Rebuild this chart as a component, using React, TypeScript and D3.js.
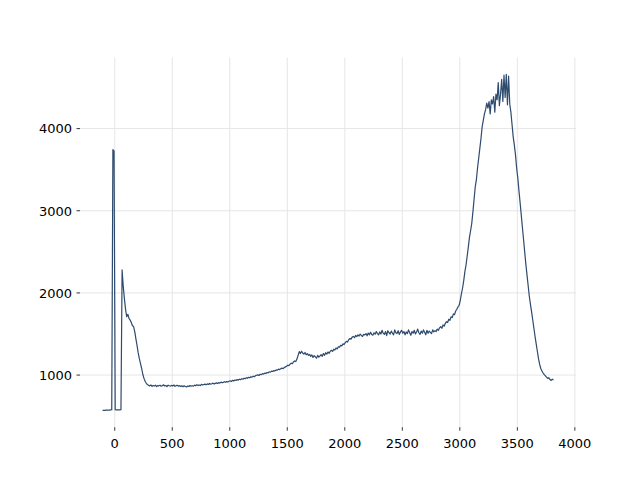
import React from "react";
import * as d3 from "d3";

// Spectrum sampled every X_STEP units starting at X_START
const X_START = -106;
const X_STEP = 10;

const VALUES: number[] = [
  // -106 .. -16
  570, 572, 571, 574, 573, 575, 574, 576, 578, 3745,
  // -6 .. 84
  3725, 578, 577, 577, 578, 577, 579, 2280, 2080, 1930,
  1800, 1710, 1740, 1690, 1670, 1640, 1600, 1590, 1530, 1440,
  1360, 1270, 1200, 1140, 1080, 1010, 960, 925, 900, 885,
  875, 868, 880, 862, 874, 866, 878, 860, 872, 869,
  876, 864, 871, 882, 867, 873, 861, 877, 870, 866,
  874, 868, 879, 863, 871, 876, 865, 872, 860, 869,
  858, 870, 862, 855, 867, 861, 873, 864, 870, 866,
  878, 869, 883, 874, 880, 872, 888, 879, 885, 890,
  882, 893, 886, 898, 889, 895, 902, 891, 899, 905,
  897, 908, 902, 914, 906, 911, 919, 912, 921, 916,
  925, 931, 922, 936, 929, 940, 934, 945, 939, 950,
  944, 955, 949, 962, 956, 968, 961, 973, 967, 979,
  975, 986, 980, 993, 998, 1003, 995, 1010, 1006, 1018,
  1012, 1024, 1019, 1031, 1027, 1040, 1036, 1048, 1044, 1055,
  1052, 1063, 1060, 1072, 1066, 1079, 1085, 1078, 1092, 1100,
  1108, 1120, 1115, 1132, 1145, 1138, 1160, 1172, 1165, 1195,
  1240, 1285, 1262, 1290, 1268, 1255, 1275, 1248, 1262, 1240,
  1252, 1228, 1245, 1215, 1238, 1222, 1205, 1240, 1218, 1232,
  1248, 1228, 1262, 1240, 1272, 1255, 1281, 1265, 1290, 1302,
  1288, 1315, 1305, 1330, 1318, 1345, 1338, 1362, 1355, 1380,
  1372, 1395, 1410, 1402, 1430, 1445, 1438, 1462, 1470, 1455,
  1482, 1468, 1490, 1475, 1498, 1482, 1470, 1495, 1488, 1505,
  1478, 1512, 1490, 1520, 1495, 1485, 1515, 1498, 1530, 1505,
  1490, 1525, 1500, 1545, 1510, 1495, 1530, 1480, 1540, 1515,
  1500, 1535, 1510, 1490, 1550, 1515, 1505, 1540, 1495, 1525,
  1545, 1510, 1530, 1490, 1525, 1505, 1550, 1515, 1485, 1530,
  1510, 1545, 1500, 1525, 1560, 1515, 1495, 1535, 1510, 1550,
  1520, 1490, 1545, 1510, 1535, 1520, 1505, 1550, 1525, 1540,
  1530, 1560, 1545, 1575, 1590, 1570, 1610, 1595, 1630, 1650,
  1640, 1680, 1665, 1710, 1700, 1745, 1735, 1780, 1800, 1830,
  1850, 1910, 1990, 2060, 2150, 2260, 2340, 2450, 2560, 2680,
  2760, 2850, 2990, 3140, 3290, 3380, 3520, 3640, 3760, 3880,
  4020, 4100, 4180, 4230, 4310, 4250, 4330, 4180, 4350, 4300,
  4390, 4200, 4420, 4350, 4560, 4280, 4420, 4600, 4330, 4650,
  4380, 4660, 4290, 4640, 4300, 4200, 4050, 3900, 3800, 3680,
  3520, 3400, 3245, 3100, 2950, 2800, 2650, 2500, 2350, 2220,
  2090, 1960, 1860, 1770, 1670, 1570, 1470, 1380, 1290, 1200,
  1130, 1080, 1050, 1025, 1005, 990, 975, 960, 968, 945,
  935, 950, 940,
];

const X_TICKS = [0, 500, 1000, 1500, 2000, 2500, 3000, 3500, 4000];
const Y_TICKS = [1000, 2000, 3000, 4000];

const W = 640;
const H = 480;
const LEFT = 80;
const RIGHT = 576;
const TOP = 57.6;
const BOTTOM = 427.2;

export default function App() {
  const pts = VALUES.map((v, i) => [X_START + i * X_STEP, v] as [number, number]);
  const [xMin, xMax] = d3.extent(pts, (d) => d[0]) as [number, number];
  const [yMin, yMax] = d3.extent(pts, (d) => d[1]) as [number, number];
  const xPad = (xMax - xMin) * 0.05;
  const yPad = (yMax - yMin) * 0.05;
  const x = d3.scaleLinear().domain([xMin - xPad, xMax + xPad]).range([LEFT, RIGHT]);
  const y = d3.scaleLinear().domain([yMin - yPad, yMax + yPad]).range([BOTTOM, TOP]);
  const line = d3
    .line<[number, number]>()
    .x((d) => x(d[0]))
    .y((d) => y(d[1]));

  const font = "'DejaVu Sans', sans-serif";
  const fs = 13;

  return (
    <svg
      width={W}
      height={H}
      style={{ position: "absolute", left: 0, top: 0, background: "#fff" }}
      fontFamily={font}
    >
      <rect x={0} y={0} width={W} height={H} fill="#fff" />
      <g>
        {X_TICKS.map((t) => (
          <line key={"gx" + t} x1={x(t)} x2={x(t)} y1={TOP} y2={BOTTOM} stroke="#e6e6e6" strokeWidth={1} />
        ))}
        {Y_TICKS.map((t) => (
          <line key={"gy" + t} x1={LEFT} x2={RIGHT} y1={y(t)} y2={y(t)} stroke="#e6e6e6" strokeWidth={1} />
        ))}
      </g>
      <path d={line(pts) || ""} fill="none" stroke="#2e4a6e" strokeWidth={1.2} strokeLinejoin="round" />
      <g>
        {X_TICKS.map((t) => (
          <g key={"tx" + t}>
            <line x1={x(t)} x2={x(t)} y1={BOTTOM} y2={BOTTOM + 3.5} stroke="#000" strokeWidth={0.8} />
            <text x={x(t)} y={447.8} textAnchor="middle" fontSize={fs} fill="#000">
              {t}
            </text>
          </g>
        ))}
        {Y_TICKS.map((t) => (
          <g key={"ty" + t}>
            <line x1={LEFT - 3.5} x2={LEFT} y1={y(t)} y2={y(t)} stroke="#000" strokeWidth={0.8} />
            <text x={72} y={y(t) + 4.75} textAnchor="end" fontSize={fs} fill="#000">
              {t}
            </text>
          </g>
        ))}
      </g>
    </svg>
  );
}
